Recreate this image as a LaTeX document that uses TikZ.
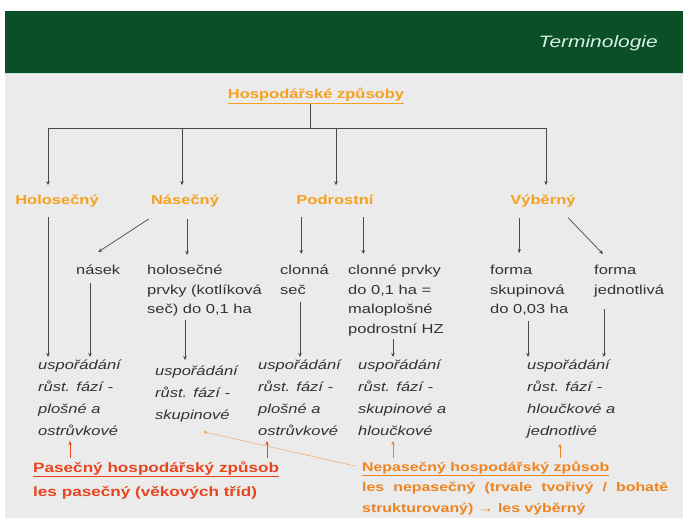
\documentclass[tikz,border=0pt]{standalone}
\usepackage{fontspec}
\setmainfont{Liberation Sans}[FakeStretch=1.27]
\usetikzlibrary{arrows.meta}
\definecolor{forest}{HTML}{0B4F26}
\definecolor{mint}{HTML}{BFE8D8}
\definecolor{paper}{HTML}{EBEBEB}
\definecolor{ink}{HTML}{333333}
\definecolor{gold}{HTML}{F5A11E}
\definecolor{brick}{HTML}{E8441E}
\definecolor{tangerine}{HTML}{EE8420}
\tikzset{
  lbl/.style={inner sep=0pt,anchor=base,text=gold,font=\fontsize{13}{16}\selectfont\bfseries},
  txt/.style={inner sep=0pt,anchor=north west,align=left,text=ink,font=\fontsize{13}{19.5}\selectfont},
  rst/.style={inner sep=0pt,anchor=north west,align=left,text=ink,font=\fontsize{13}{22}\selectfont\itshape},
  arr/.style={draw=ink!90,line width=0.7pt,-{Stealth[length=4pt,width=3.5pt]}},
}
\begin{document}
\begin{tikzpicture}[x=1pt,y=-1pt]
\useasboundingbox (0,0) rectangle (683,518);
\fill[white] (0,0) rectangle (683,518);
\fill[paper] (5,74) rectangle (683,518);
\fill[forest] (5,11) rectangle (683,73);
\draw[mint,line width=1pt] (5,74) -- (683,74);
\node[inner sep=0pt,anchor=base east,text=mint!60!white,font=\fontsize{16.5}{18}\selectfont\itshape] (title) at (658,48) {Terminologie};

\node[lbl] (head) at (316,99) {\underline{Hospodářské způsoby}};
\node[lbl] (holo) at (57,205) {Holosečný};
\node[lbl] (nase) at (185,205) {Násečný};
\node[lbl] (podr) at (335,205) {Podrostní};
\node[lbl] (vybe) at (543,205) {Výběrný};

\node[txt] (nasek) at (76,265) {násek};
\node[txt] (holpr) at (147,265) {holosečné\\prvky (kotlíková\\seč) do 0,1 ha};
\node[txt] (clsec) at (280,265) {clonná\\seč};
\node[txt] (clpr) at (348,265) {clonné prvky\\do 0,1 ha =\\maloplošné\\podrostní HZ};
\node[txt] (fsk) at (490,265) {forma\\skupinová\\do 0,03 ha};
\node[txt] (fjed) at (594,265) {forma\\jednotlivá};

\node[rst] (ra) at (38,360) {uspořádání\\růst. fází -\\plošné a\\ostrůvkové};
\node[rst] (rb) at (155,366) {uspořádání\\růst. fází -\\skupinové};
\node[rst] (rc) at (258,360) {uspořádání\\růst. fází -\\plošné a\\ostrůvkové};
\node[rst] (rd) at (358,360) {uspořádání\\růst. fází -\\skupinové a\\hloučkové};
\node[rst] (re) at (527,360) {uspořádání\\růst. fází -\\hloučkové a\\jednotlivé};

\node[inner sep=0pt,anchor=north west,align=left,text=brick,font=\fontsize{13.5}{24}\selectfont\bfseries] (pas) at (33,461)
  {\underline{Pasečný hospodářský způsob}\\les pasečný (věkových tříd)};
\node[inner sep=0pt,anchor=north west,text width=306pt,align=justify,text=tangerine,font=\fontsize{12.5}{20.5}\selectfont\bfseries] (nepas) at (362,461)
  {\underline{Nepasečný hospodářský způsob}\\les nepasečný (trvale tvořivý / bohatě strukturovaný) → les výběrný};

\coordinate (bar) at (310,128);
\draw[draw=ink!90,line width=0.7pt] (bar |- head.south) -- (bar);
\foreach \n/\dx in {holo/-9,nase/-3,podr/1,vybe/3}
  \draw[arr,shorten >=10pt] (bar) -| ([xshift=\dx pt]\n.north);

\draw[arr,shorten <=9pt,shorten >=3pt] ([xshift=-9pt]holo.south) -- ([xshift=-9pt]holo.south |- ra.north);
\draw[arr] ([xshift=-2pt,yshift=-11pt]nase.south west) -- ([yshift=13pt]nasek.north);
\draw[arr,shorten <=11pt,shorten >=10pt] ([xshift=2pt]nase.south) -- ([xshift=2pt]nase.south |- holpr.north);
\draw[arr,shorten <=8pt,shorten >=3pt] ([xshift=14pt]nasek.south west) -- ([xshift=14pt]nasek.south west |- ra.north);
\draw[arr,shorten <=3pt,shorten >=6pt] ([xshift=38pt]holpr.south west) -- ([xshift=38pt]holpr.south west |- rb.north);
\draw[arr,shorten <=12pt,shorten >=11pt] ([xshift=5pt]podr.south west) -- ([xshift=5pt]podr.south west |- clsec.north);
\draw[arr,shorten <=12pt,shorten >=11pt] ([xshift=67pt]podr.south west) -- ([xshift=67pt]podr.south west |- clpr.north);
\draw[arr,shorten <=7pt,shorten >=3pt] ([xshift=20pt]clsec.south west) -- ([xshift=20pt]clsec.south west |- rc.north);
\draw[arr,shorten <=3pt,shorten >=3pt] ([xshift=45pt]clpr.south west) -- ([xshift=45pt]clpr.south west |- rd.north);
\draw[arr,shorten <=10pt,shorten >=12pt] ([xshift=9pt]vybe.south west) -- ([xshift=9pt]vybe.south west |- fsk.north);
\draw[arr] ([xshift=58pt,yshift=-10pt]vybe.south west) -- ([xshift=9pt,yshift=11pt]fjed.north west);
\draw[arr,shorten <=6pt,shorten >=3pt] ([xshift=38pt]fsk.south west) -- ([xshift=38pt]fsk.south west |- re.north);
\draw[arr,shorten <=12pt,shorten >=3pt] ([xshift=10pt]fjed.south west) -- ([xshift=10pt]fjed.south west |- re.north);

\draw[arr,draw=brick,shorten <=3pt,shorten >=5pt] ([xshift=37pt]pas.north west) -- ([xshift=37pt]pas.north west |- ra.south);
\draw[arr,draw=brick,shorten <=3pt,shorten >=5pt] ([xshift=234pt]pas.north west) -- ([xshift=234pt]pas.north west |- rc.south);
\draw[arr,draw=tangerine,line width=0.5pt,shorten <=3pt,shorten >=5pt] ([xshift=31pt]nepas.north west) -- ([xshift=31pt]nepas.north west |- rd.south);
\draw[arr,draw=tangerine,line width=0.5pt,shorten <=3pt,shorten >=5pt] ([xshift=198pt]nepas.north west) -- ([xshift=198pt]nepas.north west |- re.south);
\draw[arr,draw=tangerine!70,line width=0.5pt] ([xshift=-7pt,yshift=-5pt]nepas.north west) -- ([xshift=48pt,yshift=-9pt]rb.south west);
\end{tikzpicture}
\end{document}
